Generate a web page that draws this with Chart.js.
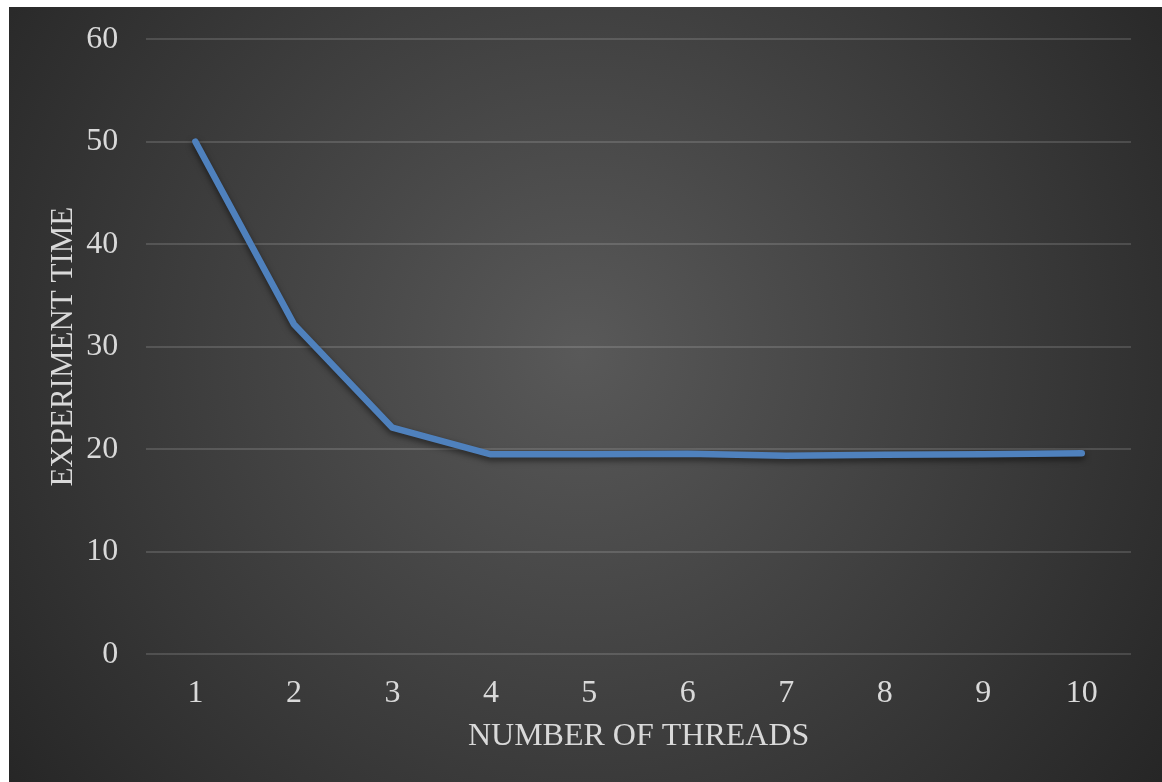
<!DOCTYPE html>
<html>
<head>
<meta charset="utf-8">
<script src="https://cdn.jsdelivr.net/npm/chart.js@4"></script>
<style>
  html, body { margin: 0; padding: 0; background: #fff; }
  #wrap { position: absolute; left: 0; top: 0; width: 1162px; height: 782px; }
</style>
</head>
<body>
<div id="wrap"><canvas id="grafico"></canvas></div>
<script>
const threads = ['1', '2', '3', '4', '5', '6', '7', '8', '9', '10'];
const experimentTime = [50, 32.2, 22.1, 19.5, 19.5, 19.55, 19.35, 19.45, 19.5, 19.6];
const yTicks = [0, 10, 20, 30, 40, 50, 60];

// fundo escuro com gradiente radial, deixando a margem branca em cima e a esquerda
const fundo = {
    id: 'fundo',
    beforeDraw(chart) {
        const ctx = chart.ctx;
        const w = chart.width, h = chart.height;
        const g = ctx.createRadialGradient(w * 0.5, h * 0.45, 0, w * 0.5, h * 0.45, w * 0.62);
        g.addColorStop(0, '#595959');
        g.addColorStop(1, '#262626');
        ctx.save();
        ctx.fillStyle = g;
        ctx.fillRect(9, 7, w - 9, h - 7);
        ctx.restore();
    }
};

const sombra = {
    id: 'sombra',
    beforeDatasetDraw(chart) {
        const ctx = chart.ctx;
        ctx.save();
        ctx.shadowColor = 'rgba(0,0,0,0.55)';
        ctx.shadowBlur = 6;
        ctx.shadowOffsetY = 3;
    },
    afterDatasetDraw(chart) {
        chart.ctx.restore();
    }
};

const serif = '"Liberation Serif", "Times New Roman", serif';

new Chart(document.getElementById('grafico'), {
    type: 'line',
    data: {
        labels: threads,
        datasets: [{
            label: 'Experiment time',
            data: experimentTime,
            borderColor: '#4f81bd',
            borderWidth: 6.5,
            borderCapStyle: 'round',
            borderJoinStyle: 'round',
            pointRadius: 0,
            tension: 0
        }]
    },
    plugins: [fundo, sombra],
    options: {
        responsive: true,
        maintainAspectRatio: false,
        animation: false,
        layout: { padding: { top: 0, right: 31, bottom: 22, left: 45 } },
        plugins: {
            legend: { display: false },
            tooltip: { enabled: false }
        },
        scales: {
            x: {
                offset: true,
                grid: { display: false },
                border: { display: false },
                ticks: { color: '#d9d9d9', font: { family: serif, size: 32 }, padding: 12 },
                title: {
                    display: true,
                    text: 'NUMBER OF THREADS',
                    color: '#d9d9d9',
                    font: { family: serif, size: 32 },
                    padding: { top: -7, bottom: 4 }
                }
            },
            y: {
                min: 0,
                max: 60,
                afterBuildTicks: axis => { axis.ticks = yTicks.map(v => ({ value: v })); },
                grid: { color: 'rgba(255,255,255,0.14)', lineWidth: 2, drawTicks: false },
                border: { display: false },
                ticks: { color: '#d9d9d9', font: { family: serif, size: 32, lineHeight: 0.7 }, padding: 28 },
                title: {
                    display: true,
                    text: 'EXPERIMENT TIME',
                    color: '#d9d9d9',
                    font: { family: serif, size: 31 },
                    padding: { top: 0, bottom: -24 }
                }
            }
        }
    }
});
</script>
</body>
</html>
